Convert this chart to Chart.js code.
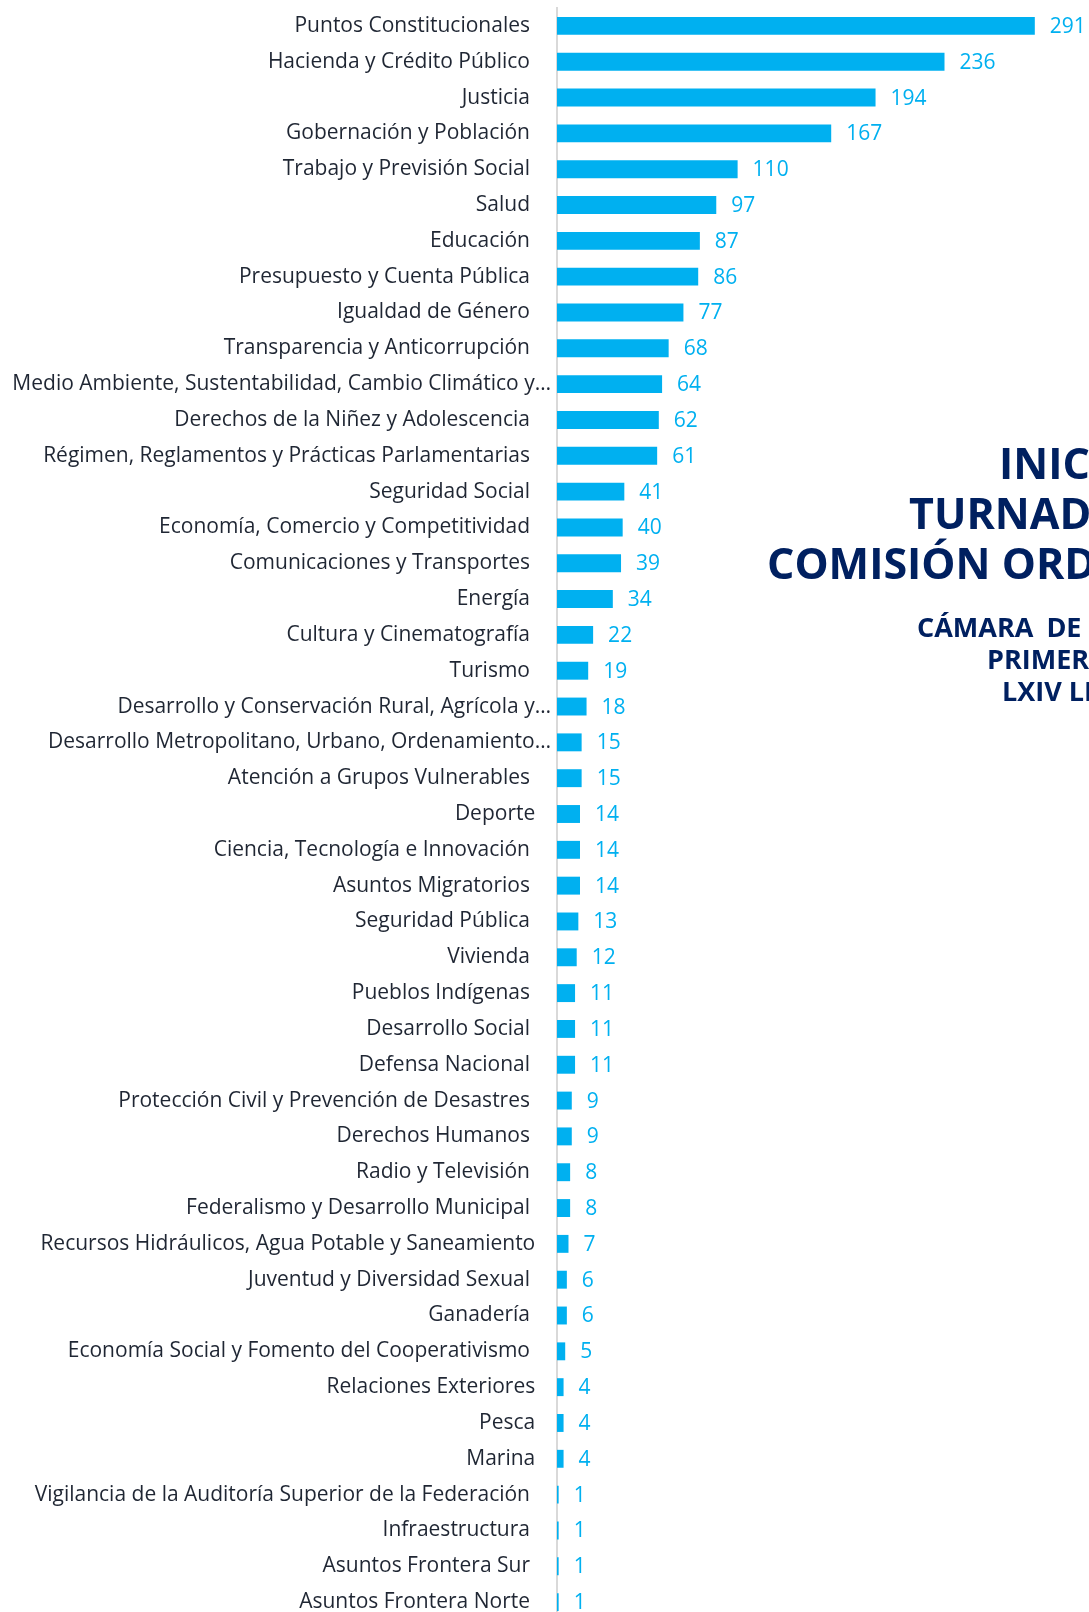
<!DOCTYPE html>
<html lang="es">
<head>
<meta charset="utf-8">
<title>Iniciativas turnadas por comisión ordinaria</title>
<script src="https://cdn.jsdelivr.net/npm/chart.js@4.4.1/dist/chart.umd.min.js"></script>
<style>
  html, body { margin: 0; padding: 0; background: #fff; }
  body { width: 1089px; height: 1612px; overflow: hidden; position: relative; }
  #wrap { position: absolute; left: 0; top: 0; width: 1089px; height: 1620px; }
  .titulo { position: absolute; white-space: nowrap; color: #002060; font-family: "Open Sans", sans-serif; font-weight: 700; }
  .t1 { font-size: 43px; line-height: 50px; }
  .t2 { font-size: 27px; line-height: 32px; }
</style>
</head>
<body>
<div id="wrap"><canvas id="grafica"></canvas></div>

<div class="titulo t1" style="left:999px; top:438px;">INICIATIVAS</div>
<div class="titulo t1" style="left:909px; top:488px;">TURNADAS POR</div>
<div class="titulo t1" style="left:767px; top:538px;">COMISIÓN ORDINARIA</div>
<div class="titulo t2" style="left:917px; top:611px; word-spacing:6px;">CÁMARA DE DIPUTADOS</div>
<div class="titulo t2" style="left:987px; top:643px;">PRIMER AÑO</div>
<div class="titulo t2" style="left:1002px; top:675px;">LXIV LEGISLATURA</div>

<script>
// datos
const comisiones = [
  'Puntos Constitucionales',
  'Hacienda y Crédito Público',
  'Justicia',
  'Gobernación y Población',
  'Trabajo y Previsión Social',
  'Salud',
  'Educación',
  'Presupuesto y Cuenta Pública',
  'Igualdad de Género',
  'Transparencia y Anticorrupción',
  'Medio Ambiente, Sustentabilidad, Cambio Climático y…',
  'Derechos de la Niñez y Adolescencia',
  'Régimen, Reglamentos y Prácticas Parlamentarias',
  'Seguridad Social',
  'Economía, Comercio y Competitividad',
  'Comunicaciones y Transportes',
  'Energía',
  'Cultura y Cinematografía',
  'Turismo',
  'Desarrollo y Conservación Rural, Agrícola y…',
  'Desarrollo Metropolitano, Urbano, Ordenamiento…',
  'Atención a Grupos Vulnerables',
  'Deporte',
  'Ciencia, Tecnología e Innovación',
  'Asuntos Migratorios',
  'Seguridad Pública',
  'Vivienda',
  'Pueblos Indígenas',
  'Desarrollo Social',
  'Defensa Nacional',
  'Protección Civil y Prevención de Desastres',
  'Derechos Humanos',
  'Radio y Televisión',
  'Federalismo y Desarrollo Municipal',
  'Recursos Hidráulicos, Agua Potable y Saneamiento',
  'Juventud y Diversidad Sexual',
  'Ganadería',
  'Economía Social y Fomento del Cooperativismo',
  'Relaciones Exteriores',
  'Pesca',
  'Marina',
  'Vigilancia de la Auditoría Superior de la Federación',
  'Infraestructura',
  'Asuntos Frontera Sur',
  'Asuntos Frontera Norte'
];

const iniciativas = [
  291, 236, 194, 167, 110, 97, 87, 86, 77, 68,
  64, 62, 61, 41, 40, 39, 34, 22, 19, 18,
  15, 15, 14, 14, 14, 13, 12, 11, 11, 11,
  9, 9, 8, 8, 7, 6, 6, 5, 4, 4,
  4, 1, 1, 1, 1
];

// en el original estas etiquetas quedan un poco más a la derecha
const sinEspacioFinal = ['Deporte', 'Recursos Hidráulicos, Agua Potable y Saneamiento', 'Relaciones Exteriores', 'Pesca', 'Marina'];

const AZUL = '#00B0F0';
const FUENTE = '"Open Sans", sans-serif';

// etiquetas de valor a la derecha de cada barra
const etiquetasValor = {
  id: 'etiquetasValor',
  afterDatasetsDraw(chart) {
    const ctx = chart.ctx;
    const meta = chart.getDatasetMeta(0);
    ctx.save();
    ctx.fillStyle = AZUL;
    ctx.font = '21px ' + FUENTE;
    ctx.textAlign = 'left';
    ctx.textBaseline = 'middle';
    meta.data.forEach((bar, i) => {
      ctx.fillText(String(iniciativas[i]), bar.x + 15, bar.y + 1);
    });
    ctx.restore();
  }
};

const ctx = document.getElementById('grafica').getContext('2d');
new Chart(ctx, {
  type: 'bar',
  data: {
    labels: comisiones,
    datasets: [{
      data: iniciativas,
      backgroundColor: AZUL,
      borderWidth: 0,
      barPercentage: 0.5,
      categoryPercentage: 1.0
    }]
  },
  options: {
    indexAxis: 'y',
    responsive: true,
    maintainAspectRatio: false,
    animation: false,
    layout: { padding: { top: 8, right: 0, bottom: 0, left: 0 } },
    plugins: {
      legend: { display: false },
      tooltip: { enabled: false }
    },
    scales: {
      x: {
        display: false,
        min: 0,
        max: 324
      },
      y: {
        afterFit(scale) {
          scale.width = 557;
          // sin margen extra arriba/abajo por las etiquetas
          scale.paddingTop = 0;
          scale.paddingBottom = 0;
        },
        grid: { display: false, drawTicks: false },
        border: { display: true, color: '#d9d9d9', width: 2 },
        ticks: {
          autoSkip: false,
          padding: 6,
          color: '#1f2633',
          font: { family: FUENTE, size: 21 },
          callback(value) {
            const t = this.getLabelForValue(value);
            if (t.endsWith('…')) return t;                   // truncadas: pegadas al eje
            if (sinEspacioFinal.includes(t)) return t + '\u2002\u2005';
            return t + '\u2003';
          }
        }
      }
    }
  },
  plugins: [etiquetasValor]
});
</script>
</body>
</html>
